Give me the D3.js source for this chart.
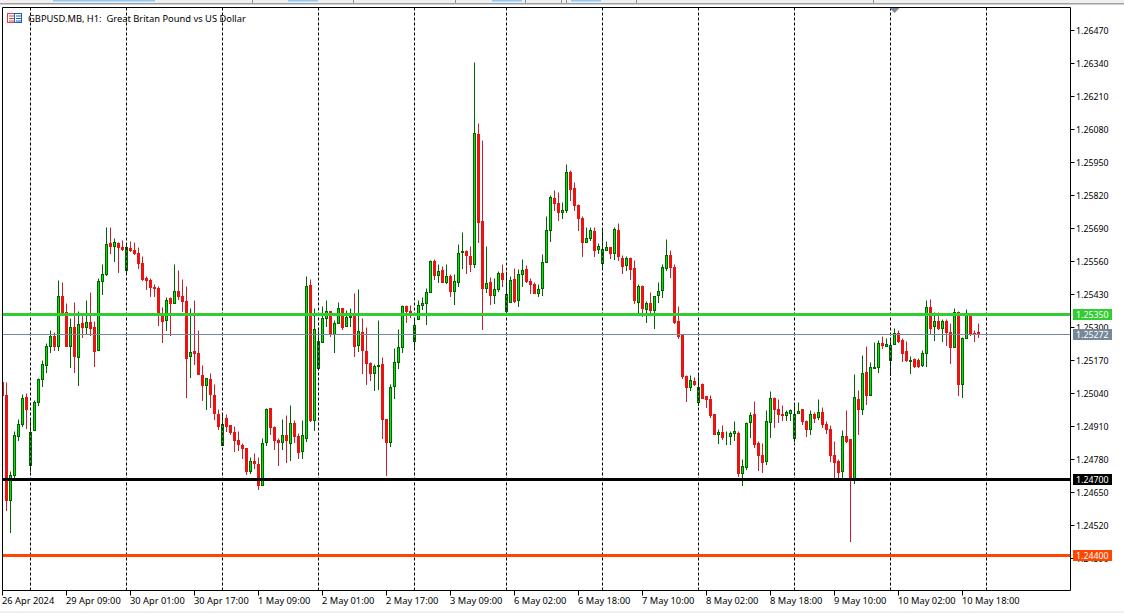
<!DOCTYPE html>
<html><head><meta charset="utf-8">
<script src="https://cdnjs.cloudflare.com/ajax/libs/d3/7.8.5/d3.min.js"></script>
<style>html,body{margin:0;padding:0;background:#fff}svg{display:block}text{font-family:"Noto Sans",sans-serif}</style>
</head><body><svg id="c" width="1124" height="613"></svg>
<script>
// Prices in points (1/100000); 245 hourly candles.
const opens=[125087,125036,124620,124720,124872,124920,125027,124758,124897,125007,125097,125153,125228,125268,125228,125424,125362,125228,125303,125185,125319,125303,125323,125303,125212,125484,125512,125634,125622,125634,125618,125527,125614,125606,125594,125555,125496,125489,125460,125456,125358,125330,125417,125397,125445,125425,125405,125189,125208,125200,125114,125074,125097,125034,124960,124838,124945,124917,124889,124858,124838,124826,124736,124775,124763,124680,124850,124984,124909,124858,124850,124877,124846,124925,124873,124814,124866,125468,124935,125141,125244,125338,125366,125275,125319,125378,125307,125342,125350,125232,125283,125208,125161,125121,125149,125157,124940,124850,125070,125165,125224,125386,125366,125248,125334,125390,125397,125441,125563,125508,125527,125480,125504,125445,125480,125598,125602,125582,125551,126063,125720,125455,125480,125427,125451,125515,125364,125401,125492,125408,125511,125531,125484,125472,125435,125455,125559,125683,125811,125791,125755,125762,125913,125850,125783,125732,125636,125652,125681,125609,125555,125606,125618,125593,125685,125574,125545,125574,125535,125400,125464,125372,125397,125368,125427,125447,125534,125586,125539,125326,125271,125110,125065,125090,125007,125078,125031,125019,124960,124880,124889,124868,124872,124884,124885,124726,124750,124928,124960,124846,124798,124773,124928,125023,124980,124960,124955,124965,124864,124963,124980,124932,124899,124960,124947,124968,124921,124901,124798,124775,124736,124874,124862,124702,125019,124980,125126,125035,125140,125145,125240,125228,125173,125236,125279,125252,125208,125169,125177,125173,125153,125200,125382,125307,125327,125299,125327,125283,125224,125362,125077,125260,125350,125279,125283];
const highs=[125087,125087,124733,124894,124938,125040,125044,124938,125016,125103,125174,125241,125289,125281,125489,125481,125397,125336,125401,125366,125350,125410,125442,125326,125496,125551,125697,125697,125651,125639,125646,125626,125642,125639,125617,125582,125505,125496,125470,125464,125382,125421,125421,125552,125525,125493,125464,125378,125407,125292,125154,125101,125121,125079,124980,124960,124960,124917,124913,124894,124845,124826,124791,124807,124792,124866,124984,124984,124913,124866,124938,124954,124995,124937,124885,124934,125505,125493,125379,125289,125383,125407,125366,125328,125399,125378,125370,125379,125438,125450,125336,125304,125165,125157,125330,125186,124940,125078,125220,125295,125390,125390,125390,125332,125407,125421,125456,125567,125571,125552,125543,125551,125512,125512,125631,125678,125606,125623,126346,126106,126037,125623,125500,125496,125523,125552,125523,125503,125535,125531,125570,125547,125496,125480,125472,125590,125740,125823,125842,125834,125795,125945,125921,125875,125787,125740,125696,125696,125696,125633,125689,125641,125618,125696,125710,125586,125582,125578,125565,125472,125468,125405,125440,125425,125480,125551,125649,125606,125551,125383,125271,125114,125115,125106,125121,125082,125031,125035,124960,124901,124917,124893,124893,124932,124893,124783,124928,124968,125011,124854,124846,124976,125050,125027,125019,124995,124976,124980,125003,125007,124980,124936,124976,124968,125019,124987,124932,124917,124854,124783,124897,124976,124862,125118,125055,125193,125228,125165,125244,125252,125267,125260,125260,125299,125291,125260,125248,125189,125181,125181,125212,125409,125413,125362,125362,125334,125334,125319,125378,125366,125264,125374,125350,125291,125319];
const lows=[125036,124583,124494,124708,124856,124912,124906,124733,124897,124994,125071,125124,125202,125210,125211,125358,125228,125144,125124,125073,125261,125273,125269,125148,125212,125431,125506,125593,125561,125518,125606,125514,125602,125589,125533,125487,125450,125424,125424,125312,125242,125290,125270,125397,125412,125365,125026,125104,125157,125118,125014,124978,124986,124939,124901,124838,124892,124881,124813,124818,124785,124723,124728,124746,124665,124680,124838,124880,124820,124760,124820,124770,124778,124849,124785,124785,124852,124930,124896,125141,125244,125305,125266,125203,125319,125295,125307,125305,125187,125208,125120,125076,125095,125053,125057,124864,124719,124833,125022,125141,125203,125321,125342,125214,125334,125374,125313,125441,125493,125479,125480,125476,125426,125391,125462,125533,125513,125522,125538,125639,125293,125439,125391,125395,125443,125463,125358,125401,125401,125384,125463,125479,125435,125435,125423,125427,125559,125640,125762,125723,125731,125754,125802,125762,125683,125581,125636,125644,125581,125593,125538,125606,125573,125570,125565,125514,125526,125490,125396,125360,125345,125321,125354,125297,125400,125419,125526,125498,125317,125258,125100,125010,125053,125073,124994,125022,124986,124949,124880,124844,124860,124840,124840,124856,124714,124679,124742,124868,124829,124738,124730,124762,124868,124907,124927,124935,124935,124935,124852,124963,124919,124872,124880,124927,124940,124907,124884,124773,124708,124708,124708,124850,124459,124688,124881,124960,124999,125035,125140,125126,125218,125228,125114,125236,125244,125168,125169,125122,125145,125145,125149,125148,125279,125250,125295,125248,125233,125161,125224,125035,125027,125260,125271,125248,125264];
const closes=[125036,124620,124720,124877,124921,125023,124980,124889,125007,125097,125157,125228,125268,125228,125424,125358,125228,125303,125187,125315,125303,125323,125299,125208,125484,125512,125630,125622,125638,125618,125611,125618,125606,125593,125555,125493,125488,125460,125456,125358,125326,125409,125397,125445,125424,125405,125181,125205,125200,125118,125074,125101,125038,124964,124912,124921,124913,124889,124856,124842,124825,124736,124775,124767,124680,124846,124980,124908,124856,124850,124877,124856,124925,124872,124810,124877,125464,124934,125295,125248,125338,125365,125275,125319,125378,125302,125342,125346,125227,125287,125212,125161,125121,125149,125153,124940,124850,125066,125164,125224,125386,125366,125349,125311,125390,125397,125441,125563,125508,125523,125480,125504,125445,125484,125594,125602,125584,125550,126067,125715,125455,125476,125427,125452,125515,125492,125433,125488,125405,125511,125527,125482,125471,125435,125452,125559,125685,125815,125790,125754,125763,125913,125845,125782,125732,125636,125653,125685,125606,125622,125610,125618,125593,125689,125581,125542,125574,125530,125408,125464,125376,125397,125368,125425,125444,125539,125586,125538,125321,125266,125108,125065,125094,125077,125066,125022,125018,124955,124880,124889,124868,124869,124885,124893,124726,124755,124924,124956,124840,124797,124771,124932,125023,124978,124959,124955,124968,124976,124960,124972,124931,124899,124960,124943,124968,124919,124899,124797,124770,124730,124874,124854,124702,125027,124980,125122,125035,125145,125145,125240,125232,125236,125232,125279,125248,125200,125173,125173,125149,125149,125200,125382,125299,125327,125299,125327,125283,125224,125362,125077,125260,125350,125279,125275,125275];
const pointBias=-3; // reading calibration of the point arrays above
const priceTicks=[1.2647,1.2634,1.2621,1.2608,1.2595,1.2582,1.2569,1.2556,1.2543,1.253,1.2517,1.2504,1.2491,1.2478,1.2465,1.2452,1.2439];
const timeLabels=["26 Apr 2024","29 Apr 09:00","30 Apr 01:00","30 Apr 17:00","1 May 09:00","2 May 01:00","2 May 17:00","3 May 09:00","6 May 02:00","6 May 18:00","7 May 10:00","8 May 02:00","8 May 18:00","9 May 10:00","10 May 02:00","10 May 18:00"];
const gridBars=[7,31,55,79,103,126,150,174,198,222,246];
const levels=[{p:1.2535,c:"#32cd32",w:3},{p:1.25272,c:"#778899",w:1},{p:1.247,c:"#000",w:3},{p:1.244,c:"#ff4500",w:3}];
const title="GBPUSD.MB, H1:  Great Britan Pound vs US Dollar";
const toolbarTabs=[[53,102],[288,30],[492,30],[571,30]];
const toolbarSeps=[252,353,455,525,561,566,636,873];

const svg=d3.select("#c");
const L=2.5,R=1070.5,T=7.5,B=590.5;
const x=d3.scaleLinear().domain([0,244]).range([2.33,978.33]);
const y=d3.scaleLinear().domain([1.2647,1.2452]).range([30.3,525.3]);
const px=v=>Math.floor(v)+.5;
const py=p=>Math.floor(y(p))+.5;

svg.append("rect").attr("x",0).attr("y",0).attr("width",1124).attr("height",3).attr("fill","#f0f0f0");
svg.append("rect").attr("x",0).attr("y",3).attr("width",1124).attr("height",1.5).attr("fill","#a0a0a0");
svg.selectAll("rect.tab").data(toolbarTabs).join("rect").attr("class","tab").attr("x",d=>d[0]).attr("y",0).attr("width",d=>d[1]).attr("height",1.5).attr("fill","#90c8f5");
svg.selectAll("line.sep").data(toolbarSeps).join("line").attr("class","sep").attr("x1",d=>d+.5).attr("x2",d=>d+.5).attr("y1",0).attr("y2",3).attr("stroke","#909090");
svg.append("rect").attr("x",0).attr("y",611).attr("width",1124).attr("height",2).attr("fill","#f0f0f0");
svg.append("defs").append("clipPath").attr("id","p").append("rect").attr("x",3).attr("y",8).attr("width",1067).attr("height",582);

const data=d3.range(opens.length).map(i=>({i,o:(opens[i]+pointBias)/1e5,h:(highs[i]+pointBias)/1e5,l:(lows[i]+pointBias)/1e5,c:(closes[i]+pointBias)/1e5}));
const g=svg.append("g").attr("clip-path","url(#p)");
const bars=g.selectAll("g.b").data(data).join("g").attr("class","b");
const up=d=>d.c>=d.o;
bars.append("line").attr("x1",d=>px(x(d.i))).attr("x2",d=>px(x(d.i))).attr("y1",d=>py(d.h)).attr("y2",d=>py(d.l)+.5)
  .attr("stroke",d=>up(d)?"#006400":"#c8202a").attr("stroke-width",1);
bars.append("rect").attr("x",d=>px(x(d.i))-1).attr("width",2)
  .attr("y",d=>py(Math.max(d.o,d.c))).attr("height",d=>Math.max(0,py(Math.min(d.o,d.c))-py(Math.max(d.o,d.c))))
  .attr("fill",d=>up(d)?"#00e800":"#ee1111").attr("stroke",d=>up(d)?"#006400":"#ee1111").attr("stroke-width",1);

g.selectAll("line.grid").data(gridBars).join("line").attr("class","grid")
  .attr("x1",d=>px(x(d))).attr("x2",d=>px(x(d))).attr("y1",T).attr("y2",B)
  .attr("stroke","#000").attr("stroke-width",1).attr("stroke-dasharray","3,2");
g.selectAll("line.lvl").data(levels).join("line").attr("class","lvl")
  .attr("x1",L).attr("x2",R).attr("y1",d=>py(d.p)).attr("y2",d=>py(d.p))
  .attr("stroke",d=>d.c).attr("stroke-width",d=>d.w);

svg.append("path").attr("d",`M${L},${T}H${R}V${B}H${L}Z`).attr("fill","none").attr("stroke","#000");
svg.append("path").attr("d","M889.5,8H899.5L894.5,13Z").attr("fill","#778899");

// right price axis
const ya=svg.append("g").attr("font-size",8.8).attr("fill","#000");
ya.selectAll("line").data(priceTicks).join("line").attr("x1",R).attr("x2",R+4).attr("y1",d=>py(d)).attr("y2",d=>py(d)).attr("stroke","#000");
ya.selectAll("text").data(priceTicks).join("text").attr("x",1076).attr("y",d=>py(d)+3.5).text(d=>d.toFixed(5));
// price tags
const tags=svg.append("g").selectAll("g").data(levels).join("g");
tags.append("rect").attr("x",1073).attr("width",39).attr("height",11).attr("y",d=>py(d.p)-5.5).attr("fill",d=>d.c);
tags.append("text").attr("x",1076).attr("y",d=>py(d.p)+3.5).attr("font-size",8.8).attr("fill","#fff").text(d=>d.p.toFixed(5));

// bottom time axis
const xa=svg.append("g").attr("font-size",9.3);
const tx=d=>px(x(d*16));
xa.selectAll("line").data(timeLabels).join("line").attr("x1",(d,i)=>tx(i)).attr("x2",(d,i)=>tx(i)).attr("y1",B).attr("y2",B+5).attr("stroke","#000");
xa.selectAll("text").data(timeLabels).join("text").attr("x",(d,i)=>tx(i)-.5).attr("y",604).text(d=>d);

// title and icon
const ic=svg.append("g");
ic.append("rect").attr("x",7.5).attr("y",13.5).attr("width",7).attr("height",9).attr("fill","#fff").attr("stroke","#e04040");
ic.append("rect").attr("x",14.5).attr("y",13.5).attr("width",7).attr("height",9).attr("fill","#fff").attr("stroke","#2060b0");
[16,18.5,21].forEach(v=>{ic.append("line").attr("x1",9).attr("x2",14).attr("y1",v).attr("y2",v).attr("stroke","#e04040");
 ic.append("line").attr("x1",16).attr("x2",21).attr("y1",v).attr("y2",v).attr("stroke","#2060b0");});
svg.append("text").attr("x",28).attr("y",21.5).attr("font-size",9.35).attr("xml:space","preserve").style("white-space","pre").text(title);
</script></body></html>
